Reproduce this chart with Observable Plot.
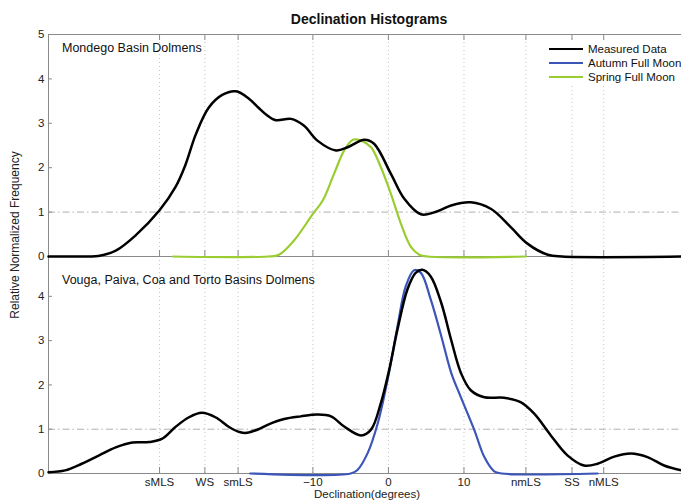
<!DOCTYPE html>
<html>
<head>
<meta charset="utf-8">
<script src="https://cdn.jsdelivr.net/npm/d3@7"></script>
<script src="https://cdn.jsdelivr.net/npm/@observablehq/plot@0.6"></script>
<style>
  body { margin: 0; background: #fff; font-family: "Liberation Sans", Arial, sans-serif; }
  #wrap { position: relative; width: 681px; height: 504px; overflow: hidden; background: #fff; }
  #wrap svg { position: absolute; left: 0; }
  .abs { position: absolute; white-space: nowrap; color: #111; }
  #title { top: 11px; left: 0; width: 738px; text-align: center; font-weight: bold; font-size: 14px; }
  .plabel { font-size: 12.5px; left: 62px; }
  #ylab { font-size: 12px; left: 15px; top: 235px; transform: translate(-50%, -50%) rotate(-90deg); color: #222; }
  #xlab { font-size: 11.5px; top: 488px; left: 0; width: 734px; text-align: center; color: #222; }
  #legend { left: 546px; top: 42px; width: 140px; background: #fff; font-size: 11.5px; }
  #legend .row { height: 14px; line-height: 14px; display: flex; align-items: center; }
  #legend .sw { width: 34px; margin: 0 5px 0 3px; height: 0; }
</style>
</head>
<body>
<div id="wrap"></div>
<script>
// ---------- data ----------
const xTicks = [-30.3, -24.3, -19.9, -10, 0, 10, 18.2, 24.3, 28.5];
const xTickLabels = ["sMLS", "WS", "smLS", "\u221210", "0", "10", "nmLS", "SS", "nMLS"];
const yTicksTop = [0, 1, 2, 3, 4, 5];
const yTicksBottom = [0, 1, 2, 3, 4];

const seriesNames = ["Measured Data", "Autumn Full Moon", "Spring Full Moon"];
const seriesColors = ["#000000", "#3b55b8", "#9acd32"];
const panelTitles = ["Mondego Basin Dolmens", "Vouga, Paiva, Coa and Torto Basins Dolmens"];

// Mondego: measured data [declination, frequency]
const mondegoMeasured = [
  [-45, 0], [-40, 0], [-38.4, 0.01], [-36.1, 0.13], [-33.5, 0.47], [-30.3, 1.04], [-28.2, 1.56],
  [-26.9, 2.05], [-25.5, 2.75], [-23.8, 3.35], [-22.0, 3.64], [-20.2, 3.72], [-18.5, 3.56],
  [-17.2, 3.35], [-16.2, 3.2], [-14.9, 3.07], [-12.9, 3.10], [-11.2, 2.95], [-9.4, 2.61],
  [-6.95, 2.39], [-5.4, 2.46], [-3.2, 2.63], [-1.9, 2.54], [0.33, 1.86], [2.1, 1.30],
  [4.3, 0.95], [6.5, 1.02], [8.3, 1.15], [10.9, 1.22], [13.6, 1.07], [16.2, 0.66],
  [18.4, 0.29], [21.1, 0.04], [23, 0], [38.8, 0]
];
// Mondego: spring full moon
const mondegoSpring = [
  [-28.5, 0], [-16, 0], [-14.5, 0.04], [-12.5, 0.36], [-10.0, 0.96], [-8.7, 1.26], [-7.2, 1.86],
  [-5.85, 2.39], [-4.7, 2.63], [-3.6, 2.61], [-2.3, 2.46], [-1.0, 2.01], [0.33, 1.41],
  [1.65, 0.74], [3.0, 0.21], [4.1, 0.04], [5.2, 0], [18.2, 0]
];
// Vouga, Paiva, Coa, Torto: measured data
const vougaMeasured = [
  [-45, 0.03], [-42.8, 0.07], [-40.6, 0.22], [-38.3, 0.41], [-36.1, 0.59], [-33.9, 0.70],
  [-31.7, 0.71], [-30.0, 0.78], [-28.2, 1.05], [-26.4, 1.27], [-24.7, 1.37], [-22.9, 1.27],
  [-21.1, 1.05], [-19.6, 0.93], [-18.7, 0.92], [-17.2, 1.0], [-16.0, 1.10], [-13.8, 1.23],
  [-11.6, 1.29], [-9.4, 1.33], [-7.6, 1.29], [-5.85, 1.06], [-3.6, 0.86], [-2.3, 0.99],
  [-1.0, 1.59], [0.1, 2.34], [1.2, 3.25], [2.5, 4.15], [3.6, 4.53], [4.5, 4.60], [5.6, 4.45],
  [7.0, 3.85], [8.3, 3.02], [9.6, 2.27], [10.9, 1.88], [12.7, 1.72], [15.3, 1.71], [17.5, 1.61],
  [19.3, 1.35], [21.5, 0.86], [23.7, 0.41], [25.9, 0.18], [27.7, 0.22], [29.9, 0.38],
  [32.1, 0.45], [34.3, 0.37], [36.5, 0.18], [38.8, 0.07]
];
// Vouga, Paiva, Coa, Torto: autumn full moon
const vougaAutumn = [
  [-18.3, 0], [-5.0, 0], [-4.1, 0.08], [-2.75, 0.46], [-1.4, 1.14], [-0.1, 2.12], [1.2, 3.32],
  [2.3, 4.23], [3.4, 4.59], [4.3, 4.53], [5.6, 3.93], [7.0, 3.10], [8.3, 2.28], [9.6, 1.72],
  [11.4, 0.97], [12.7, 0.37], [14.0, 0.05], [15.0, 0], [27.7, 0]
];

// ---------- chart ----------
const xDomain = [-45, 38.8];
const axisGray = "#8a8a8a";
const font = "'Liberation Sans', Arial, sans-serif";
const tickLabel = d => xTickLabels[xTicks.indexOf(d)];

function panel({height, marginTop, marginBottom, yDomain, yTicks, series, labels, topTicks}) {
  const marks = [
    Plot.ruleX(xTicks, {stroke: "#c4c4c4", strokeDasharray: "1,3"}),
    Plot.ruleY([1], {stroke: "#b0b0b0", strokeDasharray: "7,3,1.5,3"}),
    Plot.ruleY([0], {stroke: axisGray}),
    Plot.ruleX([xDomain[0]], {stroke: axisGray}),
    Plot.axisY({ticks: yTicks, tickSize: -4, tickPadding: 8, tickFormat: d => String(d),
      stroke: axisGray, fill: "#222", label: null}),
  ];
  if (topTicks) {
    marks.push(Plot.ruleY([yDomain[1]], {stroke: axisGray}));
    marks.push(Plot.axisX({anchor: "top", ticks: xTicks, tickSize: -5, tickFormat: () => "", stroke: axisGray, label: null}));
  }
  marks.push(Plot.axisX({anchor: "bottom", ticks: xTicks, tickSize: -6, tickPadding: 10,
    tickFormat: labels ? tickLabel : () => "", stroke: axisGray, fill: "#222", label: null}));
  for (const s of series) {
    marks.push(Plot.line(s.data, {x: d => d[0], y: d => d[1], stroke: s.color,
      strokeWidth: s.width, curve: "catmull-rom"}));
  }
  return Plot.plot({
    width: 681, height, marginTop, marginBottom, marginLeft: 48, marginRight: 0,
    x: {domain: xDomain},
    y: {domain: yDomain},
    style: {fontFamily: font, fontSize: "11.5px", background: "transparent", color: "#222", overflow: "visible"},
    marks
  });
}

const wrap = document.getElementById("wrap");
const top1 = panel({height: 257, marginTop: 34, marginBottom: 1, yDomain: [0, 5], yTicks: yTicksTop,
  labels: false, topTicks: true,
  series: [{data: mondegoSpring, color: seriesColors[2], width: 2.2},
           {data: mondegoMeasured, color: seriesColors[0], width: 2.5}]});
top1.style.top = "0px";
const bot = panel({height: 248, marginTop: 0, marginBottom: 31, yDomain: [0, 4.9], yTicks: yTicksBottom,
  labels: true, topTicks: false,
  series: [{data: vougaAutumn, color: seriesColors[1], width: 2.2},
           {data: vougaMeasured, color: seriesColors[0], width: 2.5}]});
bot.style.top = "256px";
wrap.appendChild(bot);
wrap.appendChild(top1);

function addDiv(id, cls, text, css) {
  const d = document.createElement("div");
  if (id) d.id = id;
  d.className = "abs " + (cls || "");
  if (text != null) d.textContent = text;
  if (css) Object.assign(d.style, css);
  wrap.appendChild(d);
  return d;
}
addDiv("title", "", "Declination Histograms");
addDiv(null, "plabel", panelTitles[0], {top: "41px"});
addDiv(null, "plabel", panelTitles[1], {top: "273px"});
addDiv("ylab", "", "Relative Normalized Frequency");
addDiv("xlab", "", "Declination(degrees)");
const leg = addDiv("legend", "", null);
seriesNames.forEach((name, i) => {
  const row = document.createElement("div");
  row.className = "row";
  const sw = document.createElement("div");
  sw.className = "sw";
  sw.style.borderTop = `2.2px solid ${seriesColors[i]}`;
  const t = document.createElement("span");
  t.textContent = name;
  row.appendChild(sw); row.appendChild(t);
  leg.appendChild(row);
});
</script>
</body>
</html>
